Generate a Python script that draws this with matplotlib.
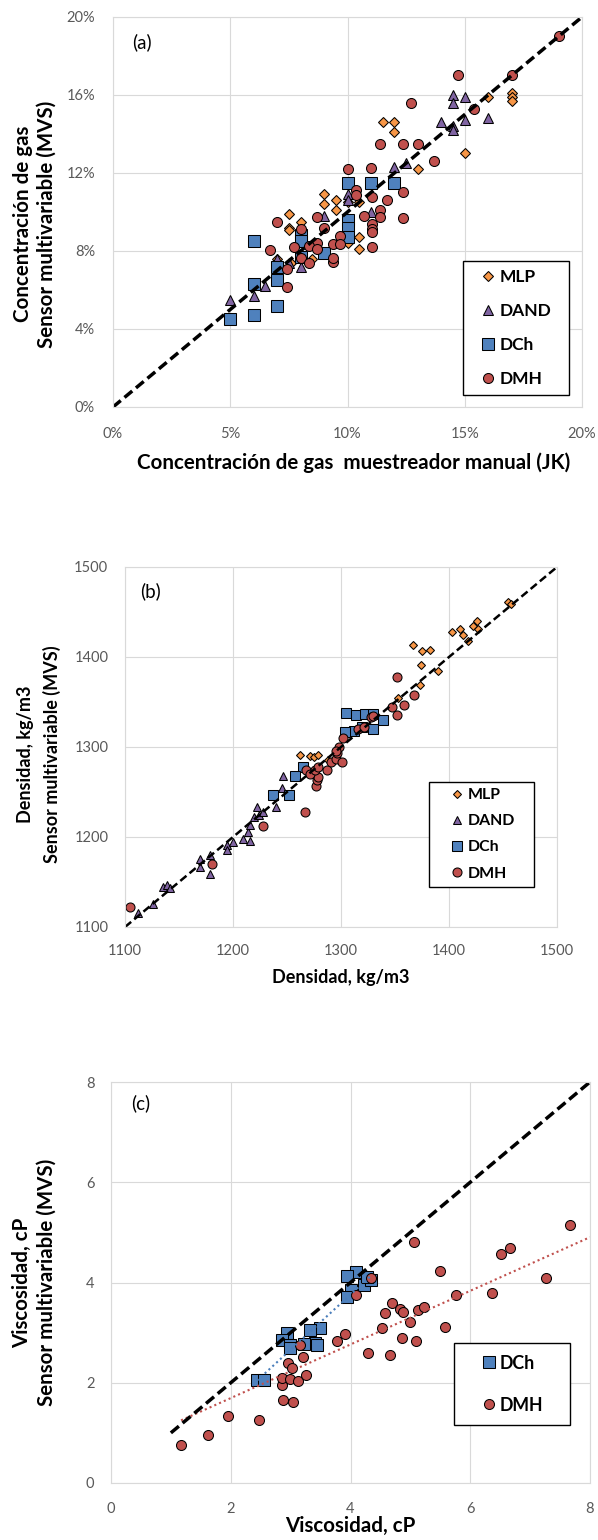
import numpy as np
import matplotlib
matplotlib.use('Agg')
import matplotlib.pyplot as plt
from matplotlib.ticker import PercentFormatter, MultipleLocator

plt.rcParams['font.family'] = ['Lato', 'DejaVu Sans']

# ---- panel (a): gas concentration, % ----
mlp_a_x = [17.0, 17.0, 17.0, 16.0, 11.5, 12.0, 12.0, 15.0, 13.0, 9.0, 9.0, 9.5, 9.5, 10.0, 10.5,
           7.5, 8.0, 7.5, 7.5, 10.5, 10.5, 10.0, 8.5, 7.6, 7.0]
mlp_a_y = [16.1, 15.9, 15.7, 15.9, 14.6, 14.6, 14.1, 13.0, 12.2, 10.9, 10.4, 10.6, 10.1, 10.5, 10.5,
           9.9, 9.5, 9.2, 9.1, 8.7, 8.1, 8.4, 7.6, 7.4, 7.6]
dand_a_x = [14.5, 14.5, 15.0, 16.0, 14.0, 14.5, 15.0, 14.5, 12.0, 12.5, 10.0, 10.0, 9.0, 11.0,
            8.0, 7.5, 6.5, 6.0, 5.0, 7.0]
dand_a_y = [16.0, 15.6, 15.9, 14.8, 14.6, 14.4, 14.7, 14.2, 12.3, 12.5, 10.9, 10.6, 9.8, 10.0,
            7.2, 7.4, 6.2, 5.7, 5.5, 7.6]
dch_a_x = [10.0, 11.0, 12.0, 10.0, 10.0, 10.0, 8.0, 8.0, 6.0, 9.0, 8.0, 7.0, 7.0, 6.0, 7.0, 6.0, 5.0]
dch_a_y = [11.5, 11.5, 11.5, 9.6, 9.2, 8.7, 8.8, 8.5, 8.5, 7.9, 7.7, 7.2, 6.5, 6.3, 5.2, 4.7, 4.5]
dmh_a_x = [19.0, 14.7, 17.0, 12.7, 15.4, 11.4, 12.35, 13.0, 13.7, 10.0, 11.0, 10.35, 10.35, 12.35,
           11.05, 11.7, 11.4, 10.7, 11.4, 12.35, 11.05, 11.05, 11.05, 11.05, 8.7, 9.0, 7.0, 8.0,
           9.7, 9.4, 9.7, 8.7, 8.35, 8.7, 7.7, 6.7, 8.0, 8.35, 9.4, 9.4, 7.4, 7.4]
dmh_a_y = [19.0, 17.0, 17.0, 15.6, 15.3, 13.5, 13.5, 13.5, 12.6, 12.2, 12.25, 11.15, 10.85, 11.0,
           10.75, 10.6, 10.1, 9.8, 9.75, 9.7, 9.4, 9.15, 8.95, 8.2, 9.75, 9.2, 9.5, 9.15,
           8.75, 8.35, 8.35, 8.4, 8.25, 8.1, 8.2, 8.05, 7.65, 7.4, 7.45, 7.65, 7.1, 6.15]

# ---- panel (b): density, kg/m3 ----
mlp_b_x = [1455, 1457, 1426, 1422, 1427, 1410, 1413, 1403, 1418, 1367, 1382, 1375, 1374, 1390,
           1373, 1353, 1262, 1271, 1275, 1279, 1288]
mlp_b_y = [1461, 1459, 1440, 1434, 1431, 1431, 1425, 1428, 1418, 1413, 1408, 1407, 1391, 1384,
           1369, 1355, 1291, 1290, 1289, 1291, 1286]
dand_b_x = [1112, 1126, 1135, 1139, 1142, 1169, 1169, 1179, 1179, 1194, 1194, 1200, 1209, 1216,
            1214, 1216, 1219, 1222, 1224, 1228, 1240, 1245, 1246]
dand_b_y = [1115, 1126, 1144, 1147, 1143, 1176, 1167, 1180, 1159, 1191, 1186, 1195, 1198, 1196,
            1206, 1213, 1222, 1233, 1224, 1228, 1233, 1254, 1268]
dch_b_x = [1305, 1314, 1322, 1330, 1339, 1330, 1312, 1304, 1319, 1265, 1257, 1237, 1252]
dch_b_y = [1338, 1336, 1337, 1337, 1330, 1320, 1318, 1317, 1322, 1278, 1268, 1247, 1247]
dmh_b_x = [1105, 1181, 1228, 1267, 1277, 1278, 1279, 1268, 1271, 1276, 1279, 1287, 1291, 1295,
           1296, 1298, 1295, 1301, 1302, 1316, 1321, 1328, 1330, 1347, 1352, 1358, 1368, 1352]
dmh_b_y = [1122, 1170, 1212, 1228, 1257, 1263, 1267, 1274, 1270, 1274, 1278, 1274, 1283, 1287,
           1293, 1300, 1296, 1283, 1310, 1320, 1322, 1333, 1335, 1344, 1336, 1347, 1358, 1378]

# ---- panel (c): viscosity, cP ----
dch_c_x = [4.09, 3.94, 4.0, 3.94, 4.22, 4.34, 4.27, 3.49, 3.33, 3.41, 3.23, 2.94, 2.85, 2.99,
           2.99, 2.44, 2.55, 3.44]
dch_c_y = [4.2, 4.12, 3.85, 3.72, 3.95, 4.04, 4.1, 3.1, 3.05, 2.79, 2.78, 2.99, 2.86, 2.76,
           2.69, 2.06, 2.06, 2.76]
dmh_c_x = [1.17, 1.62, 1.95, 2.48, 2.87, 3.04, 2.85, 2.85, 2.99, 3.13, 3.25, 2.95, 3.03, 3.2,
           3.16, 3.78, 3.91, 4.09, 4.34, 4.3, 4.66, 4.53, 4.57, 4.7, 4.83, 4.88, 4.86, 5.0,
           5.1, 5.13, 5.22, 5.06, 5.5, 5.57, 5.77, 6.37, 6.51, 6.66, 7.27, 7.67]
dmh_c_y = [0.76, 0.96, 1.33, 1.25, 1.65, 1.62, 1.96, 2.09, 2.08, 2.04, 2.16, 2.4, 2.29, 2.51,
           2.76, 2.84, 2.97, 3.75, 4.08, 2.59, 2.56, 3.09, 3.39, 3.59, 3.47, 3.42, 2.89, 3.21,
           2.84, 3.45, 3.51, 4.81, 4.23, 3.11, 3.75, 3.8, 4.57, 4.68, 4.08, 5.15]
# trendlines (slope, intercept)
trend_dch_c = [1.10, -0.64]
trend_dmh_c = [0.535, 0.624]

C_MLP = '#F79646'
C_DAND = '#8064A2'
C_DCH = '#4F81BD'
C_DMH = '#C0504D'
GRID = '#D9D9D9'
TICK = '#595959'

W, H = 598, 1540
fig = plt.figure(figsize=(W / 100, H / 100), dpi=100)


def px_axes(left, top, right, bottom):
    return fig.add_axes([left / W, 1 - bottom / H, (right - left) / W, (bottom - top) / H])


def style(ax, xpad, ypad):
    ax.grid(True, color=GRID, lw=0.8)
    ax.set_axisbelow(True)
    for s in ax.spines.values():
        s.set_color(GRID)
        s.set_linewidth(0.8)
    ax.tick_params(length=0, labelsize=10.5, labelcolor=TICK)
    ax.tick_params(axis='x', pad=xpad)
    ax.tick_params(axis='y', pad=ypad)


def pts(ax, x, y, marker, color, ms, label):
    ax.plot(x, y, ls='none', marker=marker, ms=ms, mfc=color, mec='black', mew=0.75,
            label=label)


def labels(ax, xl, yl, size, xpos, ypos, ls):
    ax.set_xlabel(xl, fontsize=size, fontweight='bold', va='center')
    ax.set_ylabel(yl, fontsize=size, fontweight='bold', va='center', linespacing=ls)
    ax.xaxis.set_label_coords(*xpos)
    ax.yaxis.set_label_coords(*ypos)


def legend(ax, anchor, size, lsp, bpad, hlen, hpad):
    leg = ax.legend(loc='upper left', bbox_to_anchor=anchor, mode='expand', borderaxespad=0,
                    fancybox=False, edgecolor='black', framealpha=1,
                    prop={'weight': 'bold', 'size': size}, labelspacing=lsp,
                    borderpad=bpad, handlelength=hlen, handletextpad=hpad)
    leg.get_frame().set_linewidth(1.0)


# ---------------- (a) ----------------
ax1 = px_axes(113, 17, 582, 407)
style(ax1, 14.4, 13)
pts(ax1, mlp_a_x, mlp_a_y, 'D', C_MLP, 5.0, 'MLP')
pts(ax1, dand_a_x, dand_a_y, '^', C_DAND, 7.0, 'DAND')
pts(ax1, dch_a_x, dch_a_y, 's', C_DCH, 8.0, 'DCh')
pts(ax1, dmh_a_x, dmh_a_y, 'o', C_DMH, 7.2, 'DMH')
ax1.plot([0, 20], [0, 20], color='black', lw=2.5, ls=(0, (2.9, 1.4)))
ax1.set_xlim(0, 20)
ax1.set_ylim(0, 20)
ax1.xaxis.set_major_locator(MultipleLocator(5))
ax1.yaxis.set_major_locator(MultipleLocator(4))
ax1.xaxis.set_major_formatter(PercentFormatter(100, decimals=0))
ax1.yaxis.set_major_formatter(PercentFormatter(100, decimals=0))
labels(ax1, 'Concentración de gas  muestreador manual (JK)',
       'Concentración de gas\nSensor multivariable (MVS)', 14.8,
       (0.514, -0.144), (-0.167, 0.469), 1.25)
ax1.text(0.04, 0.936, '(a)', transform=ax1.transAxes, fontsize=13.5, va='center')
legend(ax1, (0.7456, 0.023, 0.2273, 0.3513), 12.5, 1.05, 0.44, 2.0, -0.3)

# ---------------- (b) ----------------
ax2 = px_axes(125, 567, 557, 927)
style(ax2, 12, 12)
pts(ax2, mlp_b_x, mlp_b_y, 'D', C_MLP, 3.7, 'MLP')
pts(ax2, dand_b_x, dand_b_y, '^', C_DAND, 6.0, 'DAND')
pts(ax2, dch_b_x, dch_b_y, 's', C_DCH, 7.2, 'DCh')
pts(ax2, dmh_b_x, dmh_b_y, 'o', C_DMH, 6.5, 'DMH')
ax2.plot([1100, 1500], [1100, 1500], color='black', lw=1.8, ls=(0, (3.2, 1.6)))
ax2.set_xlim(1100, 1500)
ax2.set_ylim(1100, 1500)
ax2.xaxis.set_major_locator(MultipleLocator(100))
ax2.yaxis.set_major_locator(MultipleLocator(100))
labels(ax2, 'Densidad, kg/m3', 'Densidad, kg/m3\nSensor multivariable (MVS)', 13,
       (0.5, -0.139), (-0.200, 0.48), 1.6)
ax2.text(0.035, 0.933, '(b)', transform=ax2.transAxes, fontsize=13.5, va='center')
legend(ax2, (0.7037, 0.1, 0.243, 0.3028), 11.4, 0.76, 0.39, 2.76, -0.7)

# ---------------- (c) ----------------
ax3 = px_axes(111, 1082, 590, 1483)
style(ax3, 13.7, 12)
pts(ax3, dch_c_x, dch_c_y, 's', C_DCH, 8.4, 'DCh')
pts(ax3, dmh_c_x, dmh_c_y, 'o', C_DMH, 7.2, 'DMH')
xs = np.array([min(dch_c_x), max(dch_c_x)])
ax3.plot(xs, np.polyval(trend_dch_c, xs), color='#4A7EBB', lw=1.5, ls=(0, (1, 1.5)))
xs = np.array([min(dmh_c_x), 8])
ax3.plot(xs, np.polyval(trend_dmh_c, xs), color=C_DMH, lw=1.5, ls=(0, (1, 1.5)))
ax3.plot([1, 8], [1, 8], color='black', lw=2.5, ls=(0, (3.0, 1.4)))
ax3.set_xlim(0, 8)
ax3.set_ylim(0, 8)
ax3.xaxis.set_major_locator(MultipleLocator(2))
ax3.yaxis.set_major_locator(MultipleLocator(2))
labels(ax3, 'Viscosidad, cP', 'Viscosidad, cP\nSensor multivariable (MVS)', 14.8,
       (0.499, -0.107), (-0.160, 0.5), 1.25)
ax3.text(0.043, 0.948, '(c)', transform=ax3.transAxes, fontsize=13.5, va='center')
legend(ax3, (0.716, 0.1397, 0.242, 0.2093), 12.8, 1.41, 0.65, 2.64, -0.7)

fig.savefig('out.png', dpi=100, facecolor='white')
